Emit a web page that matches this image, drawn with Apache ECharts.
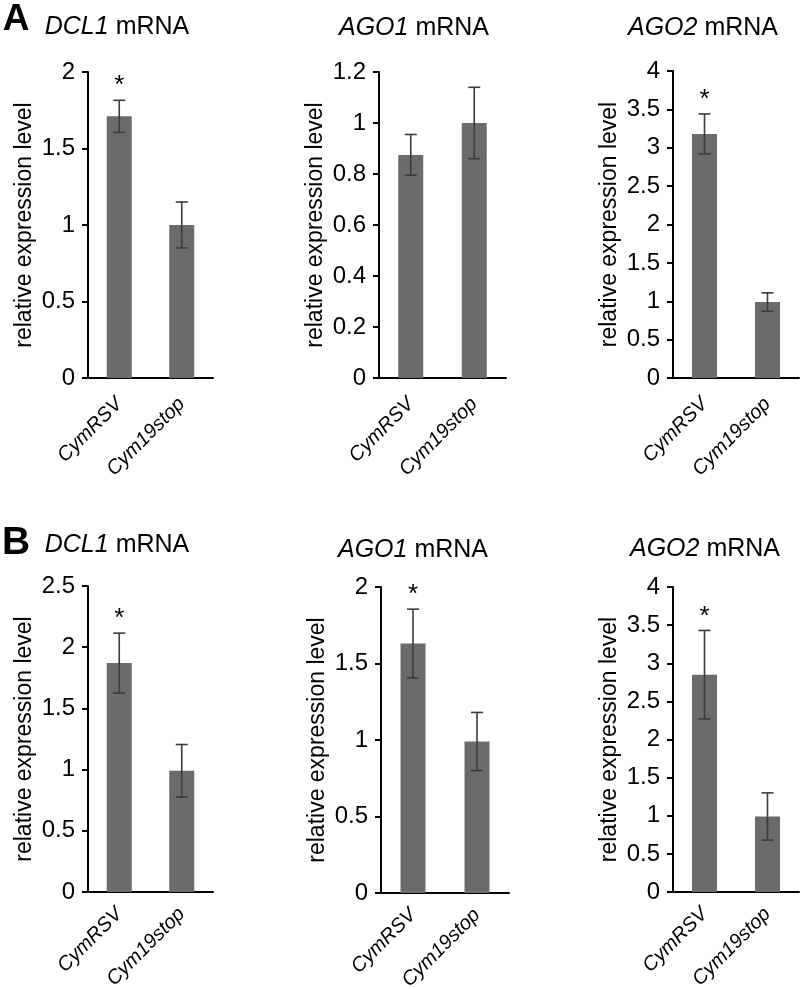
<!DOCTYPE html>
<html>
<head>
<meta charset="UTF-8">
<title></title>
<script src="https://cdn.jsdelivr.net/npm/echarts@6/dist/echarts.min.js"></script>
<style>
  html, body { margin: 0; padding: 0; background: #fff; }
</style>
</head>
<body>
<div id="main" style="width: 800px;height:989px;"></div>
<script>
    // data
    var categories = ['CymRSV', 'Cym19stop'];
    var genes = ['DCL1', 'AGO1', 'AGO2', 'DCL1', 'AGO1', 'AGO2'];
    var yMax = [2, 1.2, 4, 2.5, 2, 4];
    var yStep = [0.5, 0.2, 0.5, 0.5, 0.5, 0.5];
    var means = [[1.71, 1.0], [0.875, 1.0], [3.18, 0.99], [1.87, 0.99], [1.63, 0.99], [2.85, 0.99]];
    var errs = [[0.105, 0.15], [0.08, 0.14], [0.26, 0.12], [0.245, 0.215], [0.225, 0.19], [0.58, 0.31]];
    var stars = [[1, 0], [0, 0], [1, 0], [1, 0], [1, 0], [1, 0]];

    var font = "'Liberation Sans', Arial, sans-serif";

    // panel boxes
    var grids = [
        {left: 88, top: 72, width: 125, height: 306},
        {left: 379, top: 72, width: 127, height: 306},
        {left: 673, top: 71, width: 126, height: 307},
        {left: 88, top: 586, width: 125, height: 306},
        {left: 381, top: 587, width: 128, height: 306},
        {left: 673, top: 587, width: 126, height: 305}
    ];
    grids.forEach(function (g) { g.containLabel = false; g.outerBoundsMode = 'none'; });
    var titlePos = [[117, 27], [414, 28], [703, 28], [117, 545], [413, 550], [705, 549]];

    var myChart = echarts.init(document.getElementById('main'));

    var xAxes = [], yAxes = [], series = [], graphics = [];

    for (var i = 0; i < 6; i++) {
        xAxes.push({
            type: 'category',
            gridIndex: i,
            data: categories,
            axisLine: {lineStyle: {color: '#000', width: 2}},
            axisTick: {length: 6, lineStyle: {color: '#000', width: 2}},
            axisLabel: {
                rotate: 45, margin: i < 3 ? 23 : 19, color: '#000',
                fontFamily: font, fontSize: 20, fontStyle: 'italic'
            }
        });
        yAxes.push({
            type: 'value',
            gridIndex: i,
            min: 0, max: yMax[i], interval: yStep[i],
            name: 'relative expression level',
            nameLocation: 'middle',
            nameGap: 52,
            nameTextStyle: {color: '#000', fontFamily: font, fontSize: 23},
            splitLine: {show: false},
            axisLine: {show: true, lineStyle: {color: '#000', width: 2}},
            axisTick: {show: true, length: 6, lineStyle: {color: '#000', width: 2}},
            axisLabel: {margin: 13, color: '#000', fontFamily: font, fontSize: 24}
        });
        series.push({
            type: 'bar',
            xAxisIndex: i, yAxisIndex: i,
            barWidth: 25,
            z: 2,
            itemStyle: {color: '#6b6b6b'},
            silent: true,
            data: means[i]
        });
        var ebData = [];
        for (var j = 0; j < categories.length; j++) {
            ebData.push([j, means[i][j] - errs[i][j], means[i][j] + errs[i][j], stars[i][j]]);
        }
        series.push({
            type: 'custom',
            xAxisIndex: i, yAxisIndex: i,
            silent: true,
            z: 10,
            encode: {x: 0, y: [1, 2]},
            data: ebData,
            renderItem: function (params, api) {
                var lo = api.coord([api.value(0), api.value(1)]);
                var hi = api.coord([api.value(0), api.value(2)]);
                var hw = 6;
                var st = {stroke: '#3c3c3c', lineWidth: 1.6};
                var kids = [
                    {type: 'line', shape: {x1: hi[0], y1: hi[1], x2: lo[0], y2: lo[1]}, style: st},
                    {type: 'line', shape: {x1: hi[0] - hw, y1: hi[1], x2: hi[0] + hw, y2: hi[1]}, style: st},
                    {type: 'line', shape: {x1: lo[0] - hw, y1: lo[1], x2: lo[0] + hw, y2: lo[1]}, style: st}
                ];
                if (api.value(3)) {
                    kids.push({
                        type: 'text',
                        style: {
                            text: '*', x: hi[0], y: hi[1] - 1,
                            align: 'center', verticalAlign: 'bottom',
                            font: '26px ' + font, fill: '#000'
                        }
                    });
                }
                return {type: 'group', children: kids};
            }
        });
        graphics.push({
            type: 'text',
            x: titlePos[i][0], y: titlePos[i][1],
            style: {
                text: '{i|' + genes[i] + '} mRNA',
                align: 'center', verticalAlign: 'middle',
                fontFamily: font, fontSize: 25, fill: '#000',
                rich: {i: {fontStyle: 'italic', fontFamily: font, fontSize: 25, fill: '#000'}}
            }
        });
    }

    // panel letters
    graphics.push({type: 'text', x: 16, y: 20,
        style: {text: 'A', align: 'center', verticalAlign: 'middle', font: 'bold 37px ' + font, fill: '#000'}});
    graphics.push({type: 'text', x: 16, y: 543,
        style: {text: 'B', align: 'center', verticalAlign: 'middle', font: 'bold 39px ' + font, fill: '#000'}});

    option = {
        animation: false,
        backgroundColor: '#fff',
        grid: grids,
        xAxis: xAxes,
        yAxis: yAxes,
        series: series,
        graphic: graphics
    };

    myChart.setOption(option);
</script>
</body>
</html>
